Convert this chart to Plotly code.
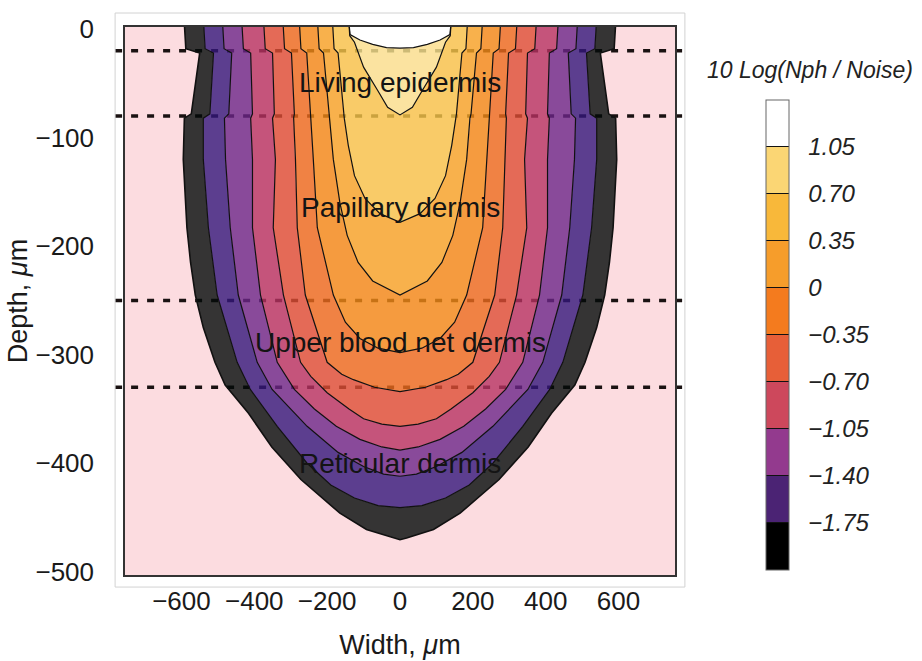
import plotly.graph_objects as go

# ---- contour boundaries (depth in um, half-width in um), outermost first ----
# B0 : edge of the lowest band (-2.10), ... B10 : edge of the top (white) region
b0_depth = [5, -18, -22, -50, -78, -82, -120, -183, -215, -245, -275, -307, -328, -354, -385, -415, -446, -461, -469, -470.5]
b0_half = [592, 588, 550, 562, 573, 592, 595, 585, 575, 562, 540, 508, 480, 416, 352, 272, 165, 92, 18, 0]

b1_depth = [5, -18, -22, -78, -82, -120, -183, -245, -307, -332, -366, -400, -420, -432, -439, -441]
b1_half = [539, 535, 512, 522, 540, 540, 526, 502, 447, 411, 337, 255, 190, 125, 60, 0]

b2_depth = [5, -18, -22, -78, -82, -120, -183, -245, -307, -332, -366, -390, -403, -410, -412]
b2_half = [487, 483, 462, 470, 482, 479, 466, 444, 392, 351, 255, 170, 100, 45, 0]

b3_depth = [5, -18, -22, -78, -82, -120, -183, -245, -307, -332, -350, -366, -378, -385, -388]
b3_half = [434, 430, 410, 405, 410, 405, 405, 383, 337, 290, 235, 175, 110, 50, 0]

b4_depth = [5, -18, -22, -78, -82, -120, -183, -245, -307, -320, -335, -350, -359, -364, -366]
b4_half = [374, 370, 350, 345, 350, 342, 348, 320, 273, 245, 200, 140, 100, 50, 0]

b5_depth = [5, -18, -22, -78, -82, -120, -183, -245, -307, -318, -323, -330, -334]
b5_half = [321, 317, 298, 290, 292, 287, 282, 260, 200, 160, 128, 70, 0]

b6_depth = [5, -18, -22, -78, -82, -120, -183, -245, -270, -285, -294, -298]
b6_half = [276, 272, 256, 245, 245, 238, 227, 183, 150, 110, 60, 0]

b7_depth = [5, -18, -22, -78, -82, -120, -160, -190, -215, -232, -245]
b7_half = [226, 222, 210, 195, 192, 183, 165, 145, 115, 75, 0]

b8_depth = [5, -18, -22, -78, -82, -107, -135, -156, -170, -178]
b8_half = [185, 181, 170, 155, 153, 142, 125, 96, 55, 0]

b9_depth = [5, -6, -12, -35, -56, -72, -79]
b9_half = [140, 138, 125, 100, 62, 34, 0]

b10_depth = [5, -5, -10, -14, -17, -17.5]
b10_half = [140, 137, 110, 75, 37, 0]

boundaries = [
    (b0_depth, b0_half), (b1_depth, b1_half), (b2_depth, b2_half),
    (b3_depth, b3_half), (b4_depth, b4_half), (b5_depth, b5_half),
    (b6_depth, b6_half), (b7_depth, b7_half), (b8_depth, b8_half),
    (b9_depth, b9_half), (b10_depth, b10_half),
]

# fill shown inside each boundary (down to the next one)
band_colors = ["#343434", "#5b3e8e", "#894a9a", "#c4547a", "#e36a57", "#ef8244",
               "#f49b3f", "#f7b14c", "#f8cb68", "#fae3a0", "#ffffff"]

# colour key: 10 bands from -2.10 to 1.40
key_edges = [-2.10, -1.75, -1.40, -1.05, -0.70, -0.35, 0.0, 0.35, 0.70, 1.05, 1.40]
key_colors = ["#000000", "#4b2374", "#933a8e", "#cd485c", "#e75f38", "#f47b1e",
              "#f69d2b", "#f8b83a", "#fbd674", "#ffffff"]
key_ticks = [-1.75, -1.40, -1.05, -0.70, -0.35, 0.0, 0.35, 0.70, 1.05]
key_labels = ["\u22121.75", "\u22121.40", "\u22121.05", "\u22120.70", "\u22120.35", "0", "0.35", "0.70", "1.05"]

layer_depths = [-20, -80, -250, -330]
layer_names = ["Living epidermis", "Papillary dermis", "Upper blood net dermis", "Reticular dermis"]
label_depths = [-49, -164, -289, -400]

x_ticks = [-600, -400, -200, 0, 200, 400, 600]
y_ticks = [-500, -400, -300, -200, -100, 0]

PINK = "#fcdce0"
ALPHA = 0.8


def hex_rgb(h):
    h = h.lstrip("#")
    return [int(h[i:i + 2], 16) for i in (0, 2, 4)]


def see_through(color, alpha=ALPHA, under=PINK):
    """rgba fill that shows `color` when laid over `under` with the given alpha."""
    c, u = hex_rgb(color), hex_rgb(under)
    v = [max(0, min(255, round((ci - (1 - alpha) * ui) / alpha))) for ci, ui in zip(c, u)]
    return f"rgba({v[0]},{v[1]},{v[2]},{alpha})"


def loop(depth, half, reverse=False):
    xs = [-h for h in half] + [h for h in reversed(half[:-1])]
    ys = list(depth) + list(reversed(depth[:-1]))
    if reverse:
        xs, ys = xs[::-1], ys[::-1]
    return xs, ys


fig = go.Figure()

# filled rings between consecutive boundaries
for i, (d, h) in enumerate(boundaries):
    xo, yo = loop(d, h)
    if i + 1 < len(boundaries):
        xi, yi = loop(*boundaries[i + 1], reverse=True)
        xs, ys = xo + [None] + xi, yo + [None] + yi
    else:
        xs, ys = xo, yo
    fill = band_colors[i] if i == len(boundaries) - 1 else see_through(band_colors[i])
    fig.add_trace(go.Scatter(x=xs, y=ys, mode="lines", fill="toself", fillcolor=fill,
                             line=dict(width=0), hoverinfo="skip", showlegend=False))

# contour lines
for i, (d, h) in enumerate(boundaries):
    xs = [-v for v in h] + [v for v in reversed(h[:-1])]
    ys = list(d) + list(reversed(d[:-1]))
    fig.add_trace(go.Scatter(x=xs, y=ys, mode="lines",
                             line=dict(color="#111111", width=1.6 if i == 0 else 1.2),
                             hoverinfo="skip", showlegend=False))

# colour key
n = len(key_colors)
scale = []
for k, c in enumerate(key_colors):
    scale += [[k / n, c], [(k + 1) / n, c]]
fig.add_trace(go.Heatmap(
    z=[[key_edges[0], key_edges[-1]]], x=[2000, 2100], y=[-250],
    zmin=key_edges[0], zmax=key_edges[-1], colorscale=scale, hoverinfo="skip",
    colorbar=dict(
        x=1.1655, xanchor="left", xpad=0, y=0.8668, yanchor="top", ypad=0,
        len=470, lenmode="pixels", thickness=23, thicknessmode="pixels",
        outlinecolor="#666666", outlinewidth=1,
        tickvals=key_ticks, ticktext=["\u00a0\u00a0" + t for t in key_labels],
        ticks="inside", ticklen=23, tickcolor="#111111", tickwidth=1,
        tickfont=dict(family="Liberation Sans", size=24, color="#222222", style="italic"),
    ),
))

# layer boundaries (dotted), drawn under the semi-transparent fills
for yd in layer_depths:
    fig.add_shape(type="line", xref="paper", yref="y", x0=-0.018, x1=1.015, y0=yd, y1=yd,
                  line=dict(color="#1a1212", width=3.5, dash="7px,9px"), layer="below")

# light outer frame
fig.add_shape(type="rect", xref="paper", yref="paper", x0=-0.018, x1=1.018, y0=-0.022, y1=1.0255,
              line=dict(color="#d2d2d2", width=1), layer="below")

for name, yd in zip(layer_names, label_depths):
    fig.add_annotation(x=0, y=yd, xref="x", yref="y", text=name, showarrow=False,
                       font=dict(family="Liberation Sans", size=28, color="#141414"))

fig.add_annotation(x=1.2455, y=0.921, xref="paper", yref="paper", text="10 Log(Nph / Noise)",
                   showarrow=False, xanchor="center", yanchor="middle",
                   font=dict(family="Liberation Sans", size=23, color="#222222", style="italic"))

axis_font = dict(family="Liberation Sans", size=26, color="#1a1a1a")
fig.update_layout(
    width=922, height=661,
    margin=dict(l=125, r=247, t=27, b=86, pad=0, autoexpand=False),
    paper_bgcolor="white", plot_bgcolor=PINK,
    font=dict(family="Liberation Sans"),
    xaxis=dict(range=[-755, 755], tickvals=x_ticks, automargin=False,
               ticktext=[str(v).replace("-", "\u2212") for v in x_ticks],
               showgrid=False, zeroline=False, showline=True, mirror=True,
               linecolor="#333333", linewidth=1.5, ticks="", tickfont=axis_font,
               ticklabelstandoff=2,
               title=dict(text="Width, <i>\u03bc</i>m", font=dict(family="Liberation Sans", size=27, color="#1a1a1a"),
                          standoff=20)),
    yaxis=dict(range=[-503, 2], tickvals=y_ticks, automargin=False,
               ticktext=[str(v).replace("-", "\u2212") for v in y_ticks],
               showgrid=False, zeroline=False, showline=True, mirror=True,
               linecolor="#333333", linewidth=1.5, ticks="", tickfont=axis_font,
               ticklabelstandoff=24,
               title=dict(text="Depth, <i>\u03bc</i>m", font=dict(family="Liberation Sans", size=27, color="#1a1a1a"),
                          standoff=0)),
)

fig.write_html("out.html")
